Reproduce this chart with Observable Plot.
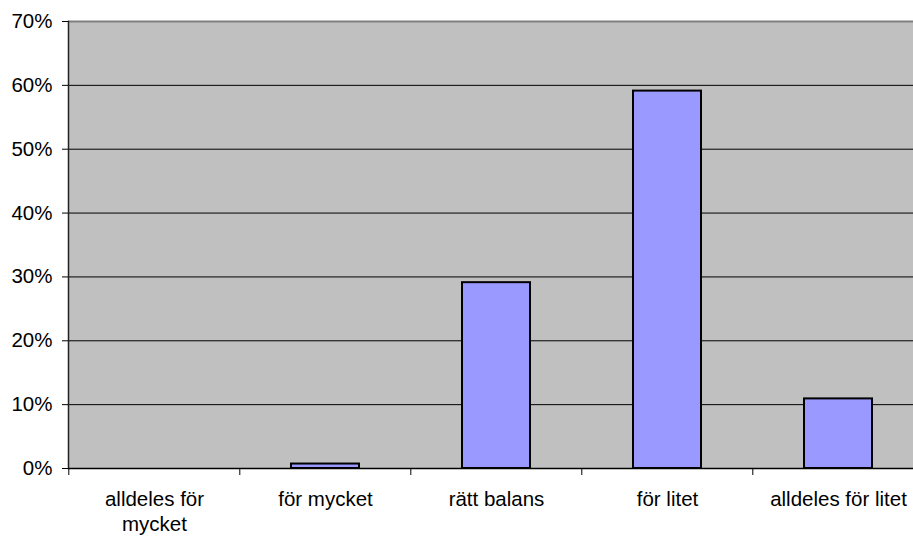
<!DOCTYPE html>
<html>
<head>
<meta charset="utf-8">
<script src="https://cdn.jsdelivr.net/npm/d3@7"></script>
<script src="https://cdn.jsdelivr.net/npm/@observablehq/plot@0.6"></script>
<style>
  html, body { margin: 0; padding: 0; background: #fff; overflow: hidden; }
  #chart svg { display: block; }
</style>
</head>
<body>
<div id="chart"></div>
<script>
const categories = ["alldeles för mycket", "för mycket", "rätt balans", "för litet", "alldeles för litet"];
const tickLabels = ["alldeles för\nmycket", "för mycket", "rätt balans", "för litet", "alldeles för litet"];
const shares = [0, 0.007, 0.291, 0.591, 0.109];
const yTicks = [0, 0.1, 0.2, 0.3, 0.4, 0.5, 0.6, 0.7];

const data = categories.map((c, i) => ({category: c, share: shares[i]}));
const labelOf = new Map(categories.map((c, i) => [c, tickLabels[i]]));

const W = 913, H = 536, ML = 68, MR = -12, MT = 21, MB = 68;
const halfStep = (W - ML - MR) / categories.length / 2;

const chart = Plot.plot({
  width: W,
  height: H,
  marginLeft: ML,
  marginRight: MR,
  marginTop: MT,
  marginBottom: MB,
  style: {fontFamily: "'Liberation Sans', Arial, sans-serif", fontSize: "20.5px", background: "#fff", color: "#000", overflow: "hidden"},
  x: {domain: categories, paddingInner: 0.6, paddingOuter: 0.3, align: 0.5, label: null},
  y: {domain: [0, 0.7], label: null},
  marks: [
    Plot.frame({fill: "#C0C0C0", stroke: null}),
    Plot.ruleY(yTicks.slice(1, -1), {stroke: "#000", strokeWidth: 1}),
    Plot.ruleY([0.7], {stroke: "#808080", strokeWidth: 2}),
    Plot.barY(data, {x: "category", y: "share", fill: "#9999FF", stroke: "#000", strokeWidth: 2}),
    Plot.ruleY([0], {stroke: "#000", strokeWidth: 1.5}),
    Plot.frame({anchor: "left", stroke: "#222", strokeWidth: 1.5}),
    Plot.axisY({ticks: yTicks, tickFormat: d3.format(".0%"), tickSize: 6, tickPadding: 10, stroke: "#000", fontSize: 20.5, label: null}),
    Plot.axisX({ticks: categories, tickSize: 7, tickFormat: () => "", dx: -halfStep, stroke: "#000", label: null}),
    Plot.axisX({ticks: categories, tickSize: 0, tickPadding: 19, tickFormat: d => labelOf.get(d), lineHeight: 1.25, fontSize: 20.5, label: null})
  ]
});
document.getElementById("chart").append(chart);
</script>
</body>
</html>
